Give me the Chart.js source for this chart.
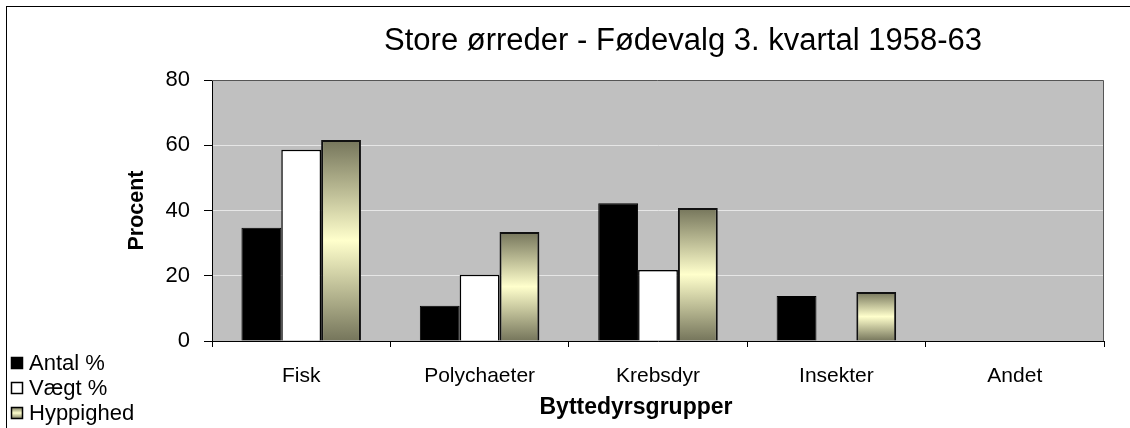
<!DOCTYPE html>
<html>
<head>
<meta charset="utf-8">
<script src="https://cdn.jsdelivr.net/npm/chart.js@4/dist/chart.umd.min.js"></script>
<style>
  html, body { margin: 0; padding: 0; background: #fff; }
  #wrap { width: 1130px; height: 428px; }
</style>
</head>
<body>
<div id="wrap"><canvas id="c" width="1130" height="428"></canvas></div>
<script>
const chartTitle = 'Store ørreder - Fødevalg 3. kvartal 1958-63';
const categories = ['Fisk', 'Polychaeter', 'Krebsdyr', 'Insekter', 'Andet'];
const seriesNames = ['Antal %', 'Vægt %', 'Hyppighed'];
const antal = [34.7, 10.8, 42.2, 13.8, 0];
const vaegt = [58.6, 20.3, 21.8, 0, 0];
const hyppighed = [61.6, 33.4, 40.8, 15.0, 0];
const yTicks = [0, 20, 40, 60, 80];
const xTitle = 'Byttedyrsgrupper';
const yTitle = 'Procent';

const FONT = "'Liberation Sans', Arial, sans-serif";
Chart.defaults.font.family = FONT;
Chart.defaults.color = '#000';

function makeGrad(ctx, top, bottom) {
  const g = ctx.createLinearGradient(0, top, 0, bottom);
  g.addColorStop(0, '#75755b');
  g.addColorStop(0.5, '#ffffcc');
  g.addColorStop(1, '#75755b');
  return g;
}

function hypFill(context) {
  const chart = context.chart;
  if (context.type !== 'data' || !chart.scales || !chart.scales.y) return '#d8d8a8';
  const y = chart.scales.y;
  const v = context.raw;
  const top = y.getPixelForValue(v);
  const bottom = y.getPixelForValue(0);
  if (!isFinite(top) || !isFinite(bottom) || bottom - top < 1) return '#d8d8a8';
  return makeGrad(chart.ctx, top, bottom);
}

const bgPlugin = {
  id: 'bg',
  beforeDraw(chart) {
    const { ctx, chartArea: a } = chart;
    ctx.save();
    ctx.fillStyle = '#fff';
    ctx.fillRect(0, 0, chart.width, chart.height);
    ctx.strokeStyle = '#000';
    ctx.lineWidth = 1;
    ctx.strokeRect(6.5, 6.5, 1300, 600);
    ctx.fillStyle = '#c0c0c0';
    ctx.fillRect(a.left, a.top, a.right - a.left, a.bottom - a.top);
    ctx.restore();
  },
  beforeDatasetsDraw(chart) {
    const { ctx, chartArea: a } = chart;
    ctx.save();
    ctx.strokeStyle = '#555';
    ctx.lineWidth = 1;
    ctx.beginPath();
    ctx.moveTo(a.left, a.top + 0.5);
    ctx.lineTo(a.right - 0.5, a.top + 0.5);
    ctx.lineTo(a.right - 0.5, a.bottom);
    ctx.stroke();
    ctx.restore();
  },
  afterDraw(chart) {
    const { ctx, chartArea: a } = chart;
    const cx = (a.left + a.right) / 2;
    ctx.save();
    ctx.fillStyle = '#000';
    ctx.textAlign = 'center';
    ctx.textBaseline = 'middle';
    // chart title
    ctx.font = '31px ' + FONT;
    ctx.fillText(chartTitle, cx + 25, 41);
    // x axis title
    ctx.font = 'bold 23px ' + FONT;
    ctx.fillText(xTitle, cx - 22, 408);
    // legend
    ctx.font = '22px ' + FONT;
    ctx.textAlign = 'left';
    const centers = [363, 388, 413];
    chart.data.datasets.forEach((ds, i) => {
      const cy = centers[i];
      const bx = 11, by = cy - 6, bs = 12;
      ctx.fillStyle = (i === 2) ? makeGrad(ctx, by, by + bs) : ds.backgroundColor;
      ctx.fillRect(bx, by, bs, bs);
      ctx.strokeStyle = '#000';
      ctx.lineWidth = 1.5;
      ctx.strokeRect(bx + 0.5, by + 0.5, bs - 1, bs - 1);
      ctx.fillStyle = '#000';
      ctx.fillText(ds.label, 29, cy + 1);
    });
    ctx.restore();
  }
};

new Chart(document.getElementById('c'), {
  type: 'bar',
  data: {
    labels: categories,
    datasets: [
      { label: seriesNames[0], data: antal, backgroundColor: '#000000', borderColor: '#000', borderWidth: 1 },
      { label: seriesNames[1], data: vaegt, backgroundColor: '#ffffff', borderColor: '#000', borderWidth: 1.5 },
      { label: seriesNames[2], data: hyppighed, backgroundColor: hypFill, borderColor: '#111', borderWidth: 2 }
    ]
  },
  options: {
    responsive: false,
    animation: false,
    events: [],
    layout: { padding: { left: 112, right: 26, top: 80, bottom: 0 } },
    datasets: { bar: { categoryPercentage: 0.67, barPercentage: 1.0, borderSkipped: 'bottom' } },
    plugins: {
      legend: { display: false },
      title: { display: false },
      tooltip: { enabled: false }
    },
    scales: {
      x: {
        offset: true,
        grid: { display: true, drawOnChartArea: false, offset: true, tickLength: 6, tickColor: '#000', color: '#000' },
        border: { color: '#000', width: 1 },
        ticks: { color: '#000', font: { size: 21 }, padding: 17, maxRotation: 0, autoSkip: false },
        title: { display: false },
        afterFit(s) { s.height = 87; }
      },
      y: {
        min: yTicks[0],
        max: yTicks[yTicks.length - 1],
        afterBuildTicks(s) { s.ticks = yTicks.map(v => ({ value: v })); },
        grid: { color: '#e6e6e6', tickColor: '#000', tickLength: 8, lineWidth: 1 },
        border: { color: '#000', width: 1 },
        ticks: { color: '#000', font: { size: 22 }, padding: 14 },
        title: { display: true, text: yTitle, color: '#000', font: { size: 21.5, weight: 'bold' }, padding: { top: 12, bottom: 0 } },
        afterFit(s) { s.width = 100; }
      }
    }
  },
  plugins: [bgPlugin]
});
</script>
</body>
</html>
